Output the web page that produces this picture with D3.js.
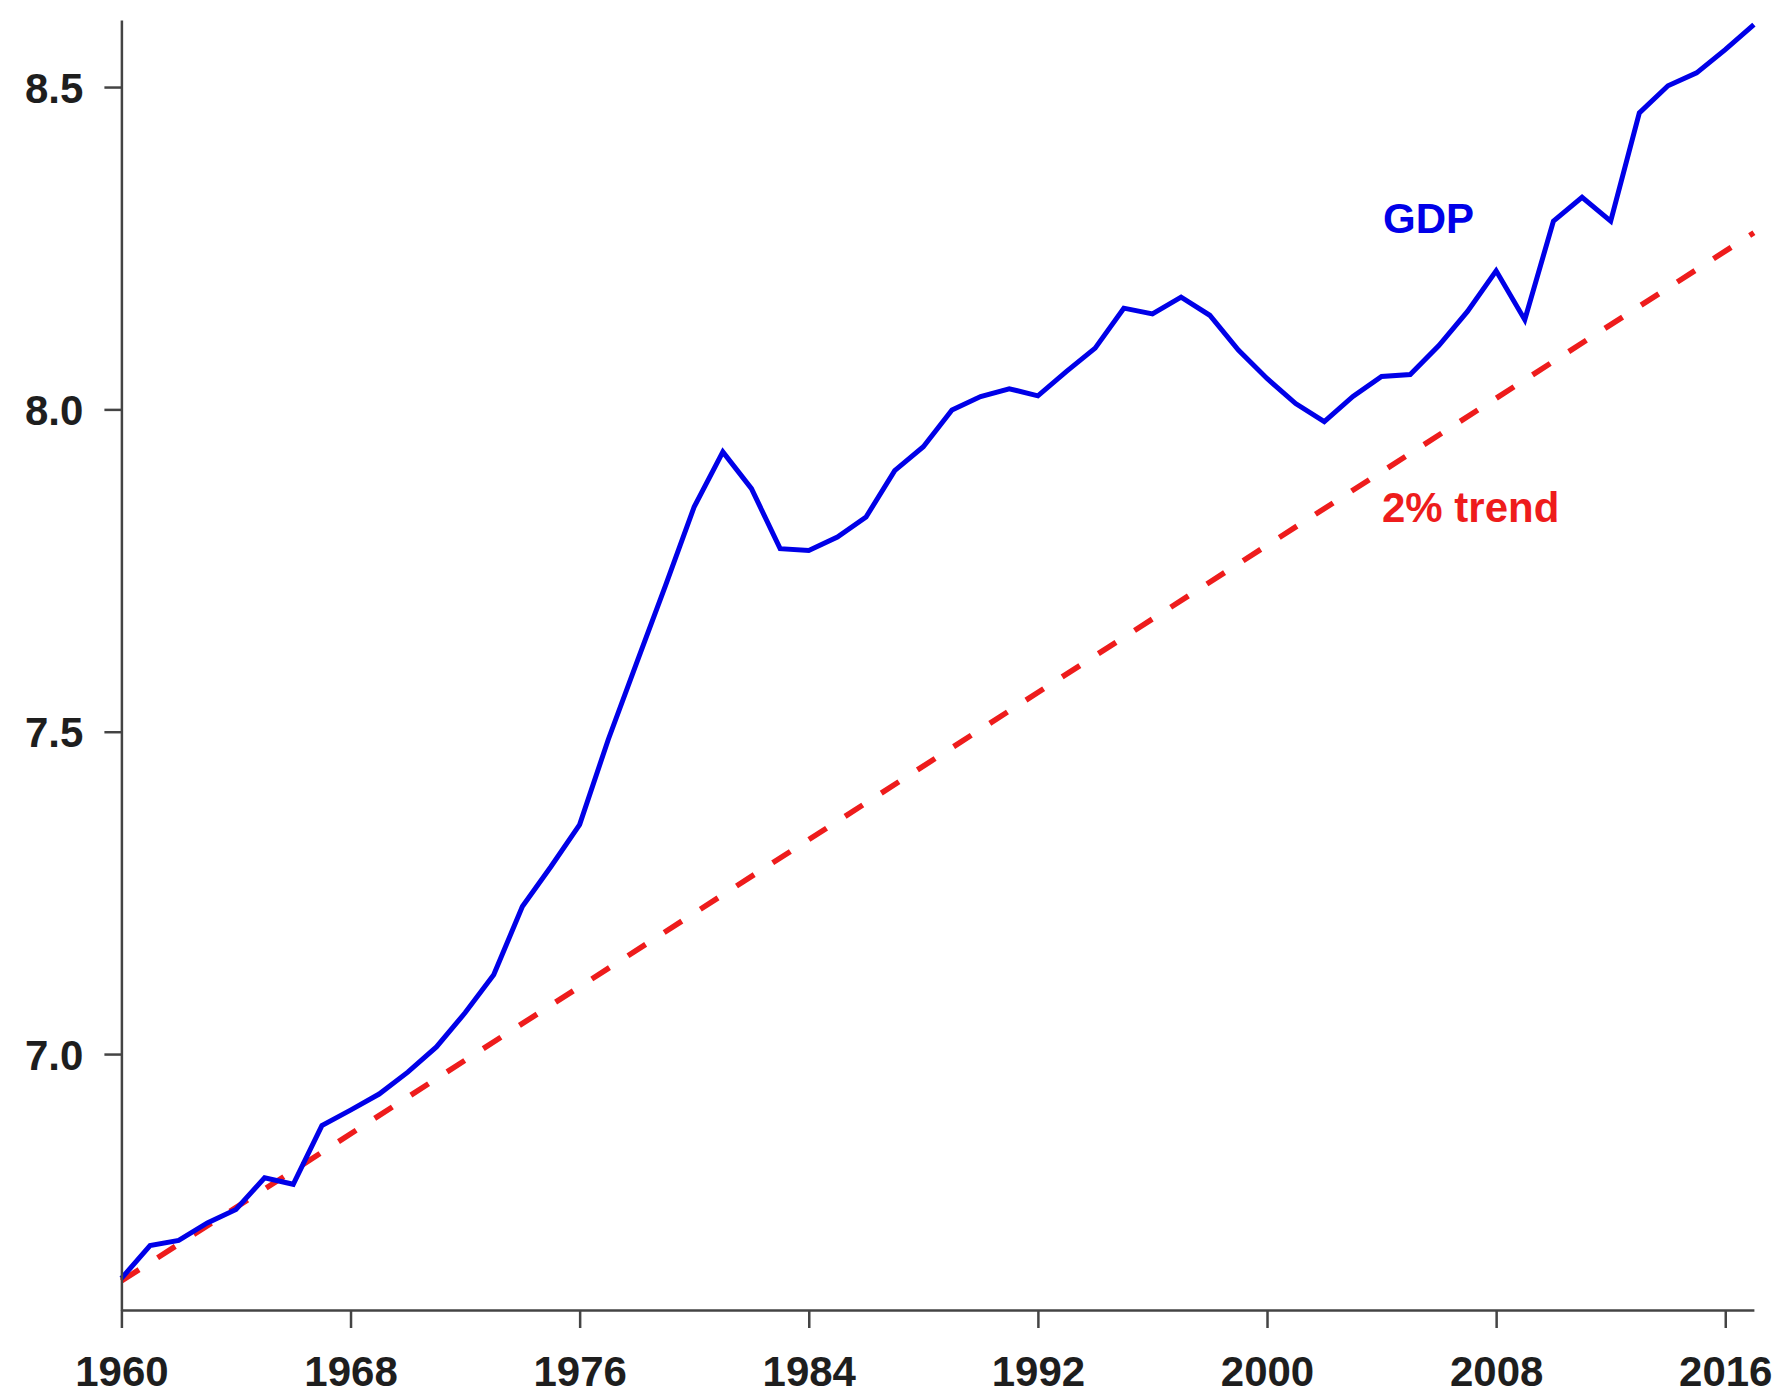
<!DOCTYPE html>
<html>

<head>
    <title>GDP and 2% trend</title>
    <script src="https://d3js.org/d3.v7.min.js"></script>
    <style>
        body { margin: 0; background: #fff; }
        text { font-family: "Liberation Sans", Arial, Helvetica, sans-serif; font-weight: bold; }
    </style>
</head>

<body>
    <div id="chart"></div>
</body>

<script type="text/javascript">
    // years and log GDP values
    var years = [1960, 1961, 1962, 1963, 1964, 1965, 1966, 1967, 1968, 1969,
        1970, 1971, 1972, 1973, 1974, 1975, 1976, 1977, 1978, 1979,
        1980, 1981, 1982, 1983, 1984, 1985, 1986, 1987, 1988, 1989,
        1990, 1991, 1992, 1993, 1994, 1995, 1996, 1997, 1998, 1999,
        2000, 2001, 2002, 2003, 2004, 2005, 2006, 2007, 2008, 2009,
        2010, 2011, 2012, 2013, 2014, 2015, 2016, 2017];
    var gdp = [6.652, 6.703, 6.711, 6.738, 6.759, 6.808, 6.798, 6.889, 6.913, 6.938,
        6.972, 7.011, 7.064, 7.123, 7.229, 7.291, 7.356, 7.488, 7.608, 7.727,
        7.849, 7.934, 7.877, 7.784, 7.781, 7.802, 7.833, 7.905, 7.942, 7.999,
        8.020, 8.032, 8.021, 8.059, 8.095, 8.157, 8.148, 8.174, 8.146, 8.092,
        8.048, 8.009, 7.981, 8.020, 8.051, 8.054, 8.099, 8.152, 8.215, 8.139,
        8.292, 8.329, 8.292, 8.460, 8.502, 8.522, 8.558, 8.597];

    // 2% trend line end points
    var trendYears = [1960, 2017];
    var trendValues = [6.648, 8.274];

    // tick labels
    var xTicks = [1960, 1968, 1976, 1984, 1992, 2000, 2008, 2016];
    var yTicks = [7.0, 7.5, 8.0, 8.5];

    var width = 1779;
    var height = 1399;

    var svg = d3.select("#chart")
        .append("svg")
        .attr("width", width)
        .attr("height", height);

    var x_scale = d3.scaleLinear()
        .domain([1960, 2017])
        .range([121.4, 1753.9]);

    var y_scale = d3.scaleLinear()
        .domain([6.603, 8.604])
        .range([1310, 20]);

    // trend line (red dashed)
    var trend = trendYears.map(function (d, i) { return [d, trendValues[i]]; });
    var line = d3.line()
        .x(function (d) { return x_scale(d[0]); })
        .y(function (d) { return y_scale(d[1]); });

    svg.append("path")
        .datum(trend)
        .attr("d", line)
        .attr("fill", "none")
        .attr("stroke", "#ee1c1c")
        .attr("stroke-width", 5.5)
        .attr("stroke-dasharray", "21,22");

    // GDP line (blue)
    var series = years.map(function (d, i) { return [d, gdp[i]]; });
    svg.append("path")
        .datum(series)
        .attr("d", line)
        .attr("fill", "none")
        .attr("stroke", "#0000e8")
        .attr("stroke-width", 5)
        .attr("stroke-linejoin", "miter");

    // axes
    var x_axis = d3.axisBottom(x_scale)
        .tickValues(xTicks)
        .tickFormat(d3.format("d"))
        .tickSize(18)
        .tickSizeOuter(0);

    var gx = svg.append("g")
        .attr("transform", "translate(0," + y_scale.range()[0] + ")")
        .call(x_axis);

    gx.selectAll("text")
        .attr("y", 76)
        .attr("dy", 0)
        .attr("font-size", 42)
        .attr("fill", "#1e1e1e");

    var y_axis = d3.axisLeft(y_scale)
        .tickValues(yTicks)
        .tickFormat(d3.format(".1f"))
        .tickSize(17)
        .tickSizeOuter(0);

    var gy = svg.append("g")
        .attr("transform", "translate(" + x_scale.range()[0] + ",0)")
        .call(y_axis);

    gy.selectAll("text")
        .attr("x", -38)
        .attr("dy", "0.36em")
        .attr("font-size", 42)
        .attr("fill", "#1e1e1e");

    svg.selectAll(".domain, .tick line")
        .attr("stroke", "#444")
        .attr("stroke-width", 2.5);

    // labels
    svg.append("text")
        .attr("x", 1383)
        .attr("y", 233)
        .attr("font-size", 42)
        .attr("fill", "#0000e8")
        .text("GDP");

    svg.append("text")
        .attr("x", 1382)
        .attr("y", 522)
        .attr("font-size", 42)
        .attr("fill", "#ee1c1c")
        .text("2% trend");
</script>

</html>
